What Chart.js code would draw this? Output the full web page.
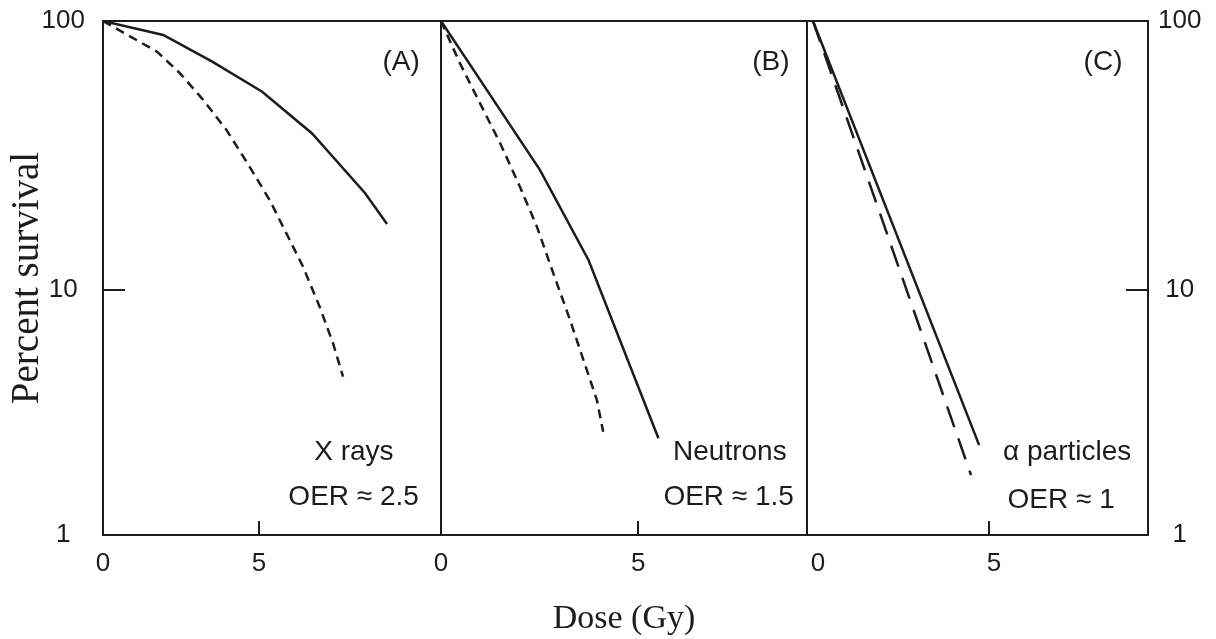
<!doctype html>
<html lang="en">
<head>
<meta charset="UTF-8">
<title>Oxygen enhancement ratio</title>
<script src="https://cdn.jsdelivr.net/npm/chart.js@4.4.1/dist/chart.umd.min.js"></script>
<style>
  body { margin: 0; background: #fff; }
  #wrap { position: relative; width: 1216px; height: 639px; }
  #wrap canvas { position: absolute; top: 0; }
</style>
</head>
<body>
<div id="wrap">
  <canvas id="chartA" width="442" height="639" style="left:0"></canvas>
  <canvas id="chartB" width="388" height="639" style="left:420px"></canvas>
  <canvas id="chartC" width="410" height="639" style="left:806px"></canvas>
</div>
<script>
// dose (Gy) and percent survival
// solid = hypoxic cells, dashed = aerated cells
const xrayHypoxicDose = [0, 1.93, 3.5, 5.1, 6.7, 8.4, 9.1];
const xrayHypoxicSurv = [100, 88.7, 70.6, 54.6, 38.2, 22.9, 17.6];
const xrayAeratedDose = [0, 1.73, 2.47, 3.21, 3.96, 4.70, 5.34, 5.88, 6.41, 6.94, 7.37, 7.69];
const xrayAeratedSurv = [100, 76.9, 63.9, 50.9, 39.3, 28.7, 21.6, 16.2, 12.2, 8.67, 6.34, 4.76];

const neutronHypoxicDose = [0, 2.51, 3.74, 5.51];
const neutronHypoxicSurv = [100, 27.9, 12.9, 2.81];
const neutronAeratedDose = [0, 0.48, 0.99, 1.50, 2.00, 2.43, 2.85, 3.27, 3.61, 3.95, 4.11];
const neutronAeratedSurv = [100, 69.6, 49.4, 35.1, 24.2, 17.2, 11.5, 7.74, 5.49, 3.90, 2.97];

const alphaHypoxicDose = [0, 4.72];
const alphaHypoxicSurv = [100, 2.65];
const alphaAeratedDose = [0, 4.49];
const alphaAeratedSurv = [100, 2.05];

const xTickValues = [0, 5];
const Y_BOTTOM = 1.228; // the drawn "1" sits a little above a true decade in the figure
const yTickValues = [Y_BOTTOM, 10, 100];
const yTickLabels = ['1', '10', '100'];

const panelLetters = ['(A)', '(B)', '(C)'];
const radiationNames = ['X rays', 'Neutrons', 'α particles'];
const oerLabels = ['OER ≈ 2.5', 'OER ≈ 1.5', 'OER ≈ 1'];

const INK = '#1c1c1c';
const NONE = 'rgba(0,0,0,0)';
const SANS = "'Liberation Sans', Arial, Helvetica, sans-serif";
const SERIF = "'Liberation Serif', 'Times New Roman', serif";

const framePlugin = {
	id: 'frame',
	afterDatasetsDraw(chart) {
		const { ctx, chartArea: a } = chart;
		ctx.save();
		ctx.strokeStyle = INK;
		ctx.lineWidth = 2;
		ctx.strokeRect(a.left, a.top, a.right - a.left, a.bottom - a.top);
		ctx.restore();
	}
};

const notesPlugin = {
	id: 'notes',
	afterDraw(chart, args, opts) {
		const { ctx, scales } = chart;
		ctx.save();
		ctx.fillStyle = INK;
		ctx.textAlign = 'center';
		ctx.textBaseline = 'middle';
		ctx.font = '28px ' + SANS;
		for (const n of opts.items) {
			ctx.fillText(n.text, scales.x.getPixelForValue(n.x), scales.y.getPixelForValue(n.y));
		}
		ctx.restore();
	}
};

// keep the axes from pushing the plot area around; the page sets it
function pinSize(s, w, h) {
	if (w !== null) s.width = w;
	if (h !== null) s.height = h;
	s.paddingTop = 0;
	s.paddingBottom = 0;
	s.paddingLeft = 0;
	s.paddingRight = 0;
}

function line(dose, surv, dash) {
	return {
		data: dose.map((d, i) => ({ x: d, y: surv[i] })),
		borderColor: INK,
		borderWidth: 2.5,
		borderDash: dash,
		pointRadius: 0,
		tension: 0,
		fill: false
	};
}

function yAxis(position, width, labelPad, title) {
	return {
		type: 'logarithmic',
		position: position,
		display: width > 0,
		min: Y_BOTTOM,
		max: 100,
		afterBuildTicks: s => { s.ticks = yTickValues.map(v => ({ value: v })); },
		afterFit: s => pinSize(s, width, null),
		border: { display: false },
		grid: {
			drawOnChartArea: false,
			tickLength: -22,
			lineWidth: 2,
			color: c => (c.tick && c.tick.value === 10 ? INK : NONE)
		},
		ticks: {
			crossAlign: 'center',
			padding: labelPad,
			color: INK,
			font: { family: SANS, size: 26 },
			callback: (v, i) => yTickLabels[i]
		},
		title: title
			? { display: true, text: title, color: INK, font: { family: SERIF, size: 39 }, padding: { top: 4, bottom: 0 } }
			: { display: false }
	};
}

function xAxis(min, max, labelOffset, title) {
	return {
		type: 'linear',
		min: min,
		max: max,
		afterBuildTicks: s => { s.ticks = xTickValues.map(v => ({ value: v })); },
		afterFit: s => pinSize(s, null, 104),
		border: { display: false },
		grid: {
			drawOnChartArea: false,
			tickLength: -14,
			lineWidth: 2,
			color: c => (c.tick && c.tick.value === 5 ? INK : NONE)
		},
		ticks: {
			padding: 27,
			labelOffset: labelOffset,
			maxRotation: 0,
			autoSkip: false,
			color: INK,
			font: { family: SANS, size: 26 }
		},
		title: title
			? { display: true, text: title, color: INK, font: { family: SERIF, size: 34 }, padding: { top: 0, bottom: 0 } }
			: { display: false }
	};
}

function makePanel(id, cfg) {
	new Chart(document.getElementById(id), {
		type: 'line',
		data: { datasets: cfg.datasets },
		options: {
			responsive: false,
			animation: false,
			devicePixelRatio: 1,
			events: [],
			layout: { padding: cfg.padding },
			scales: { x: cfg.x, y: cfg.y },
			plugins: {
				legend: { display: false },
				tooltip: { enabled: false },
				notes: { items: cfg.notes }
			}
		},
		plugins: [framePlugin, notesPlugin]
	});
}

makePanel('chartA', {
	padding: { top: 21, right: 1, bottom: 0, left: 0 },
	datasets: [
		line(xrayHypoxicDose, xrayHypoxicSurv, []),
		line(xrayAeratedDose, xrayAeratedSurv, [9, 6])
	],
	x: xAxis(0, 10.83, 0, null),
	y: yAxis('left', 103, 40, 'Percent survival'),
	notes: [
		{ text: panelLetters[0], x: 9.55, y: 70.4 },
		{ text: radiationNames[0], x: 8.04, y: 2.50 },
		{ text: oerLabels[0], x: 8.03, y: 1.70 }
	]
});

makePanel('chartB', {
	padding: { top: 21, right: 1, bottom: 0, left: 21 },
	datasets: [
		line(neutronHypoxicDose, neutronHypoxicSurv, []),
		line(neutronAeratedDose, neutronAeratedSurv, [9, 6])
	],
	x: xAxis(0, 9.275, 0, 'Dose (Gy)'),
	y: yAxis('left', 0, 0, null),
	notes: [
		{ text: panelLetters[1], x: 8.36, y: 70.4 },
		{ text: radiationNames[1], x: 7.32, y: 2.50 },
		{ text: oerLabels[1], x: 7.29, y: 1.70 }
	]
});

makePanel('chartC', {
	padding: { top: 21, right: 0, bottom: 0, left: 1 },
	datasets: [
		line(alphaHypoxicDose, alphaHypoxicSurv, []),
		line(alphaAeratedDose, alphaAeratedSurv, [22, 12])
	],
	x: xAxis(-0.17, 9.517, 5, null),
	y: yAxis('right', 68, 32, null),
	notes: [
		{ text: panelLetters[2], x: 8.24, y: 70.4 },
		{ text: radiationNames[2], x: 7.22, y: 2.50 },
		{ text: oerLabels[2], x: 7.05, y: 1.66 }
	]
});
</script>
</body>
</html>
